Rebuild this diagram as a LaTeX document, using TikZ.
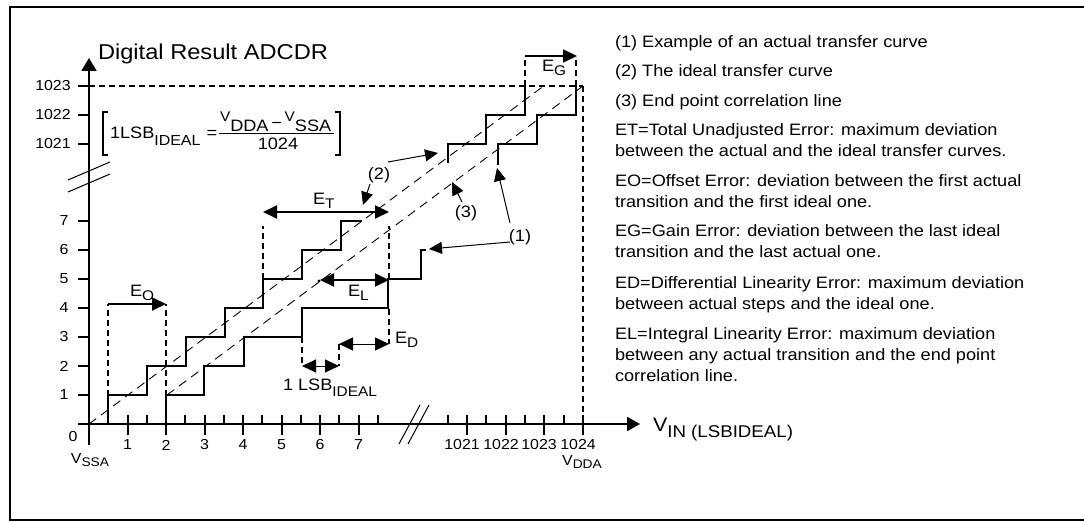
\documentclass[tikz,border=0pt]{standalone}
\usepackage{fontspec}
\setmainfont{Liberation Sans}[FakeStretch=1.1]
\usetikzlibrary{arrows.meta}
\newcommand{\sbs}[2][4pt]{\raisebox{-#1}{\fontsize{14}{14}\selectfont #2}}
\begin{document}
\begin{tikzpicture}[x=1pt,y=-1pt,
  every node/.style={inner sep=0pt,outer sep=0pt,font=\fontsize{16.5}{20}\selectfont},
  frameline/.style={line width=2pt},
  axisline/.style={line width=2pt},
  stair/.style={line width=2pt,line join=miter,line cap=butt},
  guide/.style={line width=1.8pt,dash pattern=on 6pt off 4pt},
  diag/.style={line width=0.9pt,dash pattern=on 9pt off 6pt},
  bigtip/.style={-{Triangle[length=14pt,width=13pt]}},
  bothtip/.style={{Triangle[length=14pt,width=13pt]}-{Triangle[length=14pt,width=13pt]}},
  pointer/.style={line width=1pt,-{Triangle[length=13pt,width=12pt]}},
  ticklbl/.style={anchor=center,font=\fontsize{14.5}{16}\selectfont},
  txt/.style={anchor=base west}
]
\useasboundingbox (0,0) rectangle (1084,521);
% frame
\draw[frameline] (1086,7) -- (9.5,7) -- (9.5,520) -- (1086,520);

% ---------- axes ----------
\coordinate (ybot) at (89,445);
\coordinate (ytop) at (89,58);
\coordinate (xleft) at (78,424);
\coordinate (xright) at (640,424);
\draw[axisline,-{Triangle[length=13pt,width=15pt]}] (ybot) -- (ytop);
\draw[axisline,-{Triangle[length=13pt,width=14pt]}] (xleft) -- (xright);

% y ticks
\foreach \v/\yy in {1/395,2/366,3/337,4/308,5/279,6/250,7/221}{
  \draw[axisline] (78,\yy) -- (89,\yy);
  \node[ticklbl] (yl\v) at (64,\yy) {\v};
}
\foreach \v/\yy in {1021/144,1022/115,1023/86}{
  \draw[axisline] (78,\yy) -- (89,\yy);
  \node[ticklbl] (yl\v) at (53,\yy) {\v};
}
\node[ticklbl] (y0) at (73,437) {0};

% x ticks lower
\foreach \i in {1,...,7}{
  \pgfmathsetmacro{\xx}{89+38.5*\i}
  \draw[axisline] (\xx,415) -- (\xx,435);
  \node[ticklbl] (xl\i) at (\xx,445) {\i};
}
\foreach \i in {0.5,1.5,...,7.5}{
  \pgfmathsetmacro{\xx}{89+38.5*\i}
  \draw[axisline] (\xx,415) -- (\xx,424);
}
% x ticks upper
\foreach \xx/\v in {467/1021,506/1022,544/1023,583/1024}{
  \draw[axisline] (\xx,415) -- (\xx,435);
  \node[ticklbl] (xu\v) at (\xx-5,445) {\v};
}
\foreach \xx in {448,486,525,564}{
  \draw[axisline] (\xx,415) -- (\xx,424);
}
\node[ticklbl] (vssa) at (90,460) {V\sbs[3.5pt]{\fontsize{12.5}{13}\selectfont SSA}};
\node[ticklbl] (vdda) at (582,462) {V\sbs[3.5pt]{\fontsize{12.5}{13}\selectfont DDA}};

% axis breaks
\draw[line width=1pt] (399,444) -- (420,405);
\draw[line width=1pt] (408,444) -- (429,405);
\draw[line width=1pt] (68,180) -- (110,162);
\draw[line width=1pt] (68,192) -- (110,174);

% axis titles
\node[txt,font=\fontsize{21.5}{24}\selectfont] (ytitle) at (98,60) {Digital Result ADCDR};
\node[txt] (xtitle) at (653,431) {\fontsize{19.5}{22}\selectfont V\raisebox{-6pt}{\fontsize{17}{18}\selectfont IN (LSBIDEAL)}};

% ---------- dashed guides ----------
\draw[guide] (89,86) -- (583,86);
\draw[guide] (583,86) -- (583,424);
\draw[diag] (89,424) -- (545,85);
\draw[diag] (167,395) -- (583,86);

% ---------- staircases ----------
% ideal (upper) staircase, lower part
\draw[stair] (108,424) -- (108,395) -- (147,395) -- (147,366) -- (186,366) -- (186,337)
  -- (225,337) -- (225,308) -- (263,308) -- (263,279) -- (302,279) -- (302,250)
  -- (341,250) -- (341,221) -- (362,221);
% actual staircase, lower part
\draw[stair] (166,424) -- (166,395) -- (204,395) -- (204,366) -- (244,366) -- (244,337)
  -- (302,337) -- (302,308) -- (388,308) -- (388,279) -- (421,279) -- (421,250) -- (426,250);
% ideal, upper part
\draw[stair] (448,163) -- (448,144) -- (486,144) -- (486,115) -- (525,115) -- (525,86);
% actual, upper part
\draw[stair] (498,165) -- (498,144) -- (537,144) -- (537,115) -- (576,115) -- (576,86);

% ---------- error markers ----------
% E_O
\coordinate (eoA) at (108,304);
\coordinate (eoB) at (166,304);
\draw[guide] (108,396) -- (eoA);
\draw[guide] (166,396) -- (eoB);
\draw[line width=2pt,bigtip] (eoA) -- (eoB);
\node[txt] (EO) at (130,297) {E\sbs{O}};

% E_T
\coordinate (etA) at (263,212);
\coordinate (etB) at (389,212);
\draw[guide] (263,279) -- (263,226);
\draw[guide] (389,279) -- (389,226);
\draw[line width=2pt,bothtip] (etA) -- (etB);
\node[txt] (ET) at (313,205) {E\sbs{T}};

% E_L
\coordinate (elA) at (320,280);
\coordinate (elB) at (389,280);
\fill (319,281) circle (1.6pt);
\draw[line width=2pt,bothtip] (elA) -- (elB);
\node[txt] (EL) at (348,297) {E\sbs{L}};

% E_D
\coordinate (edA) at (339,344);
\coordinate (edB) at (389,344);
\draw[guide] (389,309) -- (389,344);
\draw[guide] (339,344) -- (339,366);
\draw[line width=1pt,bothtip] (edA) -- (edB);
\node[txt] (ED) at (395,343) {E\sbs{D}};

% 1 LSB ideal
\coordinate (lsA) at (302,366);
\coordinate (lsB) at (339,366);
\draw[guide] (302,337) -- (302,366);
\draw[line width=1pt,bothtip] (lsA) -- (lsB);
\node[txt] (LSB) at (283,390) {1 LSB\sbs[6pt]{IDEAL}};

% E_G
\coordinate (egA) at (525,56);
\coordinate (egB) at (577,56);
\draw[guide] (525,86) -- (egA);
\draw[guide] (576,86) -- (576,56);
\draw[line width=2pt,bigtip] (egA) -- (egB);
\node[txt] (EG) at (542,72) {E\sbs{G}};

% ---------- pointer labels ----------
\node (L1) at (520,237) {(1)};
\node (L2) at (379,175) {(2)};
\node (L3) at (466,213) {(3)};
\coordinate (p1a) at (510,223);
\coordinate (p1b) at (510,242);
\coordinate (p2a) at (370,184);
\coordinate (p2b) at (388,162);
\coordinate (p3) at (462,202);
\coordinate (t1a) at (497,168);
\coordinate (t1b) at (429,249);
\coordinate (t2a) at (363,205);
\coordinate (t2b) at (438,153);
\coordinate (t3) at (452,182);
\draw[pointer] (p1a) -- (t1a);
\draw[pointer] (p1b) -- (t1b);
\draw[pointer] (p2a) -- (t2a);
\draw[pointer] (p2b) -- (t2b);
\draw[pointer] (p3) -- (t3);

% ---------- formula ----------
\draw[line width=1.2pt] (108,112) -- (103,112) -- (103,155) -- (108,155);
\draw[line width=1.2pt] (335,112) -- (340,112) -- (340,155) -- (335,155);
\node[txt] (lsbeq) at (110,139) {1LSB\raisebox{-7pt}{\fontsize{14.5}{16}\selectfont IDEAL}};
\node (eqsign) at (212,134) {=};
\node[txt] (numer) at (220,132) {\raisebox{10pt}{\fontsize{14}{14}\selectfont V}DDA\,\raisebox{3pt}{−}\,\raisebox{10pt}{\fontsize{14}{14}\selectfont V}SSA};
\draw[line width=1pt] (219,133.5) -- (334,133.5);
\node (denom) at (278,144) {1024};

% ---------- legend text ----------
\node[txt] (t1) at (615,48) {(1) Example of an actual transfer curve};
\node[txt] (t2) at (615,77) {(2) The ideal transfer curve};
\node[txt] (t3) at (615,107) {(3) End point correlation line};
\node[txt] (t4a) at (615,136) {ET=Total Unadjusted Error: maximum deviation};
\node[txt] (t4b) at (615,157) {between the actual and the ideal transfer curves.};
\node[txt] (t5a) at (615,187) {EO=Offset Error: deviation between the first actual};
\node[txt] (t5b) at (615,208) {transition and the first ideal one.};
\node[txt] (t6a) at (615,237) {EG=Gain Error: deviation between the last ideal};
\node[txt] (t6b) at (615,258) {transition and the last actual one.};
\node[txt] (t7a) at (615,288) {ED=Differential Linearity Error: maximum deviation};
\node[txt] (t7b) at (615,309) {between actual steps and the ideal one.};
\node[txt] (t8a) at (615,339) {EL=Integral Linearity Error: maximum deviation};
\node[txt] (t8b) at (615,360) {between any actual transition and the end point};
\node[txt] (t8c) at (615,381) {correlation line.};
\end{tikzpicture}
\end{document}
